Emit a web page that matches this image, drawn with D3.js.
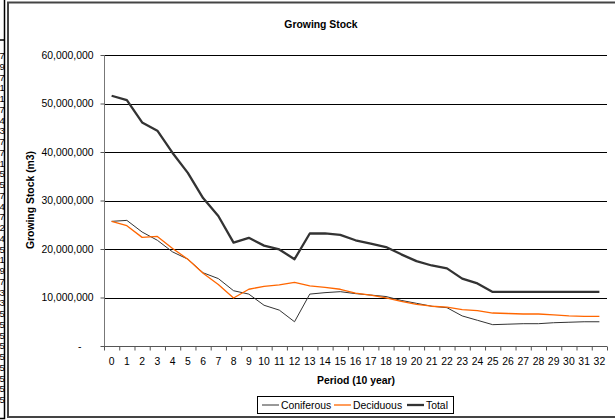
<svg class="chart"></svg>

<script src="https://d3js.org/d3.v7.min.js"></script>
<script>
// growing stock by period, m3
periods = [0,1,2,3,4,5,6,7,8,9,10,11,12,13,14,15,16,17,18,19,20,21,22,23,24,25,26,27,28,29,30,31,32]

coniferous = [25700000, 25900000, 23500000, 21800000, 19400000, 17900000, 15100000, 13900000, 11400000, 10700000,
              8400000, 7400000, 5000000, 10700000, 11000000, 11200000, 10800000, 10500000, 10200000, 9400000,
              8800000, 8200000, 7900000, 6200000, 5300000, 4400000, 4500000, 4600000, 4600000, 4800000,
              4900000, 5000000, 5000000]

deciduous = [25700000, 24800000, 22400000, 22600000, 20100000, 17900000, 15000000, 12700000, 9900000, 11700000,
             12300000, 12600000, 13100000, 12400000, 12100000, 11700000, 10900000, 10500000, 9900000, 9200000,
             8600000, 8200000, 8000000, 7500000, 7300000, 6800000, 6700000, 6600000, 6600000, 6400000,
             6200000, 6100000, 6100000]

total = [51600000, 50700000, 46100000, 44400000, 39800000, 35700000, 30500000, 26800000, 21300000, 22300000,
         20700000, 19900000, 17900000, 23200000, 23200000, 22900000, 21800000, 21100000, 20400000, 18900000,
         17500000, 16600000, 16000000, 13900000, 12900000, 11150000, 11150000, 11150000, 11150000, 11150000,
         11150000, 11150000, 11150000]

yTicks = [0, 10000000, 20000000, 30000000, 40000000, 50000000, 60000000]

// spreadsheet column peeking out on the left
stripDigits = ["7","9","7","1","1","7","4","3","7","7","1","5","5","7","4","7","2","4","5","1","9","7","3","3","5","5","5","5","5","5","5","5","5"]

series = [
  {name: "Coniferous", values: coniferous, color: "#333333", width: 1},
  {name: "Deciduous", values: deciduous, color: "#ff6600", width: 1.3},
  {name: "Total", values: total, color: "#333333", width: 2.3}
]

width = 615
height = 420
margin = ({top: 55, right: 8, bottom: 74, left: 104})

font = "'Liberation Sans', Arial, sans-serif"
fs = 10.4

x = d3.scaleBand()
    .domain(periods)
    .range([margin.left, width - margin.right])
    .padding(0)

y = d3.scaleLinear()
    .domain([0, 60000000])
    .range([height - margin.bottom, margin.top])

// boundaries between categories, for the tick marks
xEdge = d3.scaleLinear()
    .domain([-0.5, periods.length - 0.5])
    .range([margin.left, width - margin.right])

const svg = d3.select("svg")
    .attr("width", width)
    .attr("height", height)
    .attr("viewBox", [0, 0, width, height])
    .style("display", "block")
    .style("background", "#fff")
    .style("font-family", font)

d3.select("body").style("margin", 0)

// left strip of the sheet
const strip = svg.append("g")
strip.append("clipPath").attr("id", "stripclip")
  .append("rect").attr("x", 0).attr("y", 40).attr("width", 4).attr("height", 378)
strip.append("g").attr("clip-path", "url(#stripclip)")
  .selectAll("text")
  .data(stripDigits)
  .join("text")
    .attr("x", 4.8)
    .attr("y", (d, i) => 59 + i * 10.75)
    .attr("text-anchor", "end")
    .attr("font-size", 9.5)
    .text(d => d)
strip.append("path")
    .attr("d", "M0,40H4.5V0 M4.5,40V418.5H0")
    .attr("fill", "none")
    .attr("stroke", "#000")
    .attr("stroke-width", 1.5)

// chart frame
svg.append("rect")
    .attr("x", 8)
    .attr("y", 2.5)
    .attr("width", 640)
    .attr("height", 414.5)
    .attr("fill", "#fff")
    .attr("stroke", "#444")
    .attr("stroke-width", 2)

// gridlines
svg.append("g")
  .selectAll("line")
  .data(yTicks)
  .join("line")
    .attr("x1", margin.left)
    .attr("x2", width - margin.right)
    .attr("y1", d => Math.round(y(d)) + 0.5)
    .attr("y2", d => Math.round(y(d)) + 0.5)
    .attr("stroke", "#000")
    .attr("stroke-width", 1)

yAxis = g => g
    .attr("transform", `translate(${margin.left + 0.5},0)`)
    .call(d3.axisLeft(y).tickValues(yTicks).tickSize(4).tickPadding(7)
        .tickFormat(d => d === 0 ? "-" : d3.format(",")(d)))
    .call(g => g.select(".domain").attr("stroke", "#777").attr("d", `M0,${y(60000000)}V${y(0)}`))
    .call(g => g.selectAll(".tick line").attr("stroke", "#555"))
    .call(g => g.selectAll(".tick text")
        .attr("font-family", font).attr("font-size", fs).attr("fill", "#000")
        .attr("x", d => d === 0 ? -23 : -11))

xTicks = g => g
    .attr("transform", `translate(0,${Math.round(y(0)) + 0.5})`)
    .call(d3.axisBottom(xEdge).tickValues(d3.range(-0.5, periods.length, 1)).tickSize(4).tickFormat(""))
    .call(g => g.select(".domain").attr("stroke", "#555").attr("d", `M${margin.left},0H${width - margin.right}`))
    .call(g => g.selectAll(".tick line").attr("stroke", "#555"))

xAxis = g => g
    .attr("transform", `translate(0,${y(0)})`)
    .call(d3.axisBottom(x).tickSize(0).tickPadding(12))
    .call(g => g.select(".domain").remove())
    .call(g => g.selectAll(".tick text")
        .attr("font-family", font).attr("font-size", fs).attr("fill", "#000"))

svg.append("g").call(yAxis)
svg.append("g").call(xTicks)
svg.append("g").call(xAxis)

// lines
line = d3.line()
    .x((d, i) => x(periods[i]) + x.bandwidth() / 2)
    .y(d => y(d))

svg.append("g")
  .selectAll("path")
  .data(series)
  .join("path")
    .attr("fill", "none")
    .attr("stroke", d => d.color)
    .attr("stroke-width", d => d.width)
    .attr("stroke-linejoin", "round")
    .attr("d", d => line(d.values))

// titles
svg.append("text")
    .attr("x", 321)
    .attr("y", 28)
    .attr("text-anchor", "middle")
    .attr("font-weight", "bold")
    .attr("font-size", fs)
    .text("Growing Stock")

svg.append("text")
    .attr("x", 356)
    .attr("y", 384)
    .attr("text-anchor", "middle")
    .attr("font-weight", "bold")
    .attr("font-size", fs)
    .text("Period (10 year)")

svg.append("text")
    .attr("transform", "translate(34,200) rotate(-90)")
    .attr("text-anchor", "middle")
    .attr("font-weight", "bold")
    .attr("font-size", fs)
    .text("Growing Stock (m3)")

// legend
const legend = svg.append("g")
legend.append("rect")
    .attr("x", 257.5)
    .attr("y", 396.5)
    .attr("width", 196)
    .attr("height", 17)
    .attr("fill", "#fff")
    .attr("stroke", "#000")
    .attr("stroke-width", 1)

legendX = [262, 334, 407]

const item = legend.selectAll("g.item")
  .data(series)
  .join("g")
    .attr("class", "item")
    .attr("transform", (d, i) => `translate(${legendX[i]},405)`)
item.append("line")
    .attr("x1", 0)
    .attr("x2", 17)
    .attr("stroke", d => d.color)
    .attr("stroke-width", d => d.width)
item.append("text")
    .attr("x", 19)
    .attr("y", 3.7)
    .attr("font-size", fs)
    .text(d => d.name)
</script>
